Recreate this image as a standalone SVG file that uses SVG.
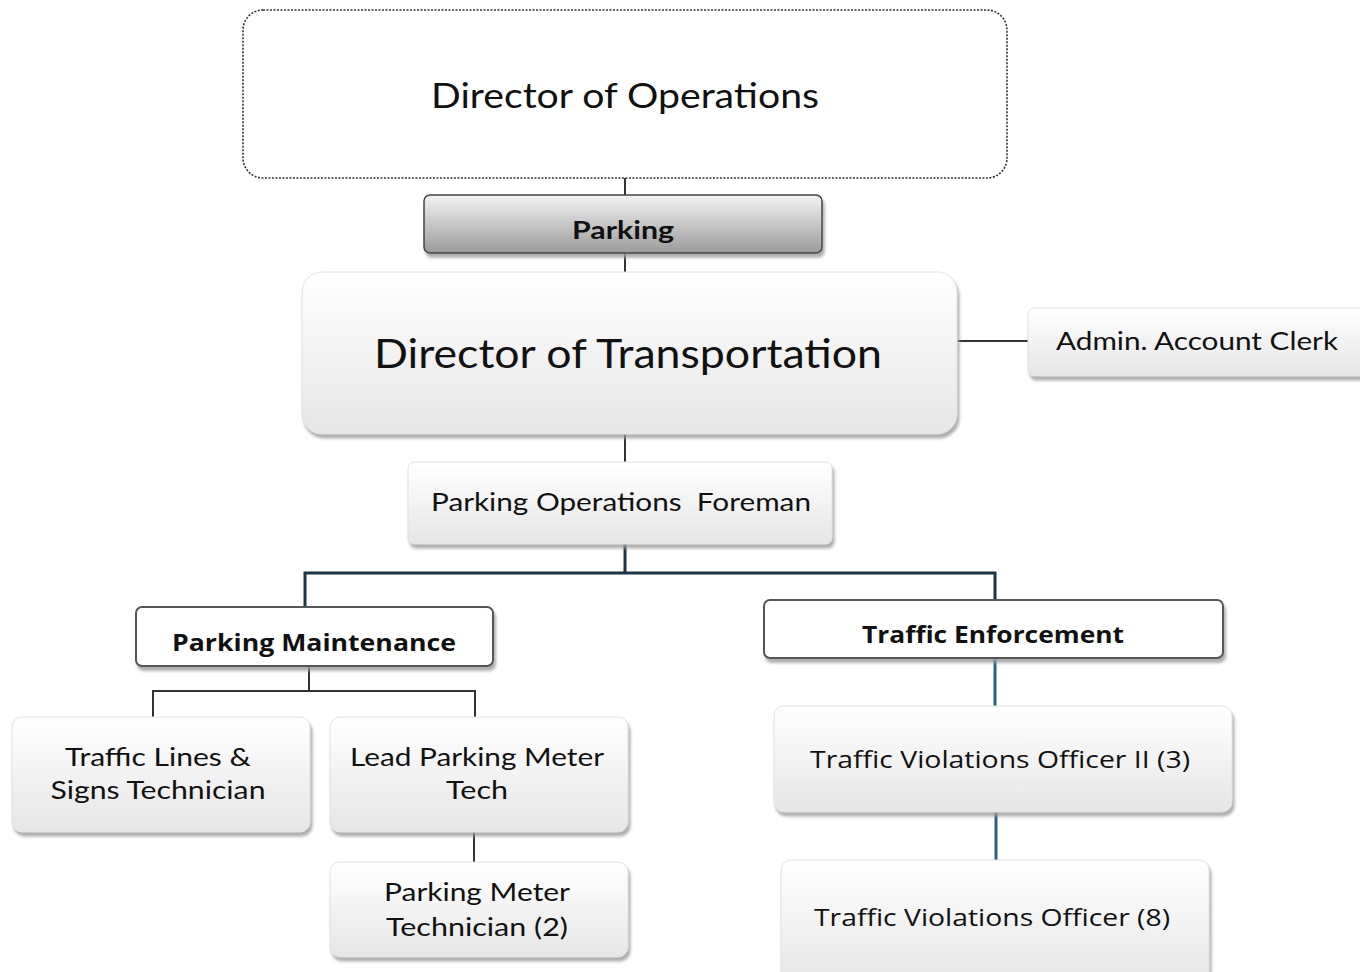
<svg xmlns="http://www.w3.org/2000/svg" width="1360" height="972" viewBox="0 0 1360 972">
<defs>
<linearGradient id="gBox" x1="0" y1="0" x2="0" y2="1">
<stop offset="0" stop-color="#ffffff"/>
<stop offset="1" stop-color="#e6e6e6"/>
</linearGradient>
<linearGradient id="gPark" x1="0" y1="0" x2="0" y2="1">
<stop offset="0" stop-color="#f4f4f4"/>
<stop offset="1" stop-color="#9a9a9a"/>
</linearGradient>
<filter id="sh" x="-10%" y="-10%" width="120%" height="130%">
<feDropShadow dx="2" dy="4" stdDeviation="1.5" flood-color="#9a9a9a" flood-opacity="0.8"/>
</filter>
</defs>
<style>
.box{fill:url(#gBox);stroke:#e2e2e2;stroke-width:1;filter:url(#sh)}
.hdr{fill:#ffffff;stroke:#555;stroke-width:2;filter:url(#sh)}
.t{font-family:"Lato","Liberation Sans",sans-serif;fill:#111;text-anchor:middle}
.s{font-family:"Open Sans","Liberation Sans",sans-serif;fill:#111;text-anchor:middle}
.ln{stroke:#333;stroke-width:2;fill:none}
.nv{stroke:#1c3444;stroke-width:3;fill:none}
.bl{stroke:#2b5f7e;stroke-width:3;fill:none}
</style>
<rect width="1360" height="972" fill="#ffffff"/>
<g id="connectors">
<path class="ln" d="M625 178V195"/>
<path class="ln" d="M625 253V272"/>
<path class="ln" d="M957 341H1028"/>
<path class="ln" d="M625 434V462"/>
<path class="nv" d="M625 544V573M305 607V573H995V600"/>
<path class="ln" d="M309 666V691M153 717V691H475V717"/>
<path class="ln" d="M474 832V862"/>
<path class="bl" d="M995 658V706"/>
<path class="bl" d="M996 812V860"/>
</g>
<g id="director-operations">
<rect x="243" y="10" width="764" height="168" rx="20" fill="#ffffff" stroke="#333" stroke-width="1.6" stroke-dasharray="2 1.5"/>
<text class="t" x="625" y="108" font-size="34" textLength="388" lengthAdjust="spacingAndGlyphs">Director of Operations</text>
</g>
<g id="parking">
<rect x="424" y="195" width="398" height="58" rx="6" fill="url(#gPark)" stroke="#444" stroke-width="1.5" filter="url(#sh)"/>
<text class="t" x="623" y="239" font-size="24" font-weight="bold" textLength="102" lengthAdjust="spacingAndGlyphs">Parking</text>
</g>
<g id="director-transportation">
<rect class="box" x="302" y="272" width="655" height="162" rx="20"/>
<text class="t" x="628" y="368" font-size="40" textLength="508" lengthAdjust="spacingAndGlyphs">Director of Transportation</text>
</g>
<g id="admin-clerk">
<rect class="box" x="1028" y="308" width="345" height="68" rx="6"/>
<text class="t" x="1197" y="350" font-size="25" textLength="282" lengthAdjust="spacingAndGlyphs">Admin. Account Clerk</text>
</g>
<g id="foreman">
<rect class="box" x="408" y="462" width="424" height="82" rx="6"/>
<text class="t" x="621" y="511" font-size="25" textLength="380" lengthAdjust="spacingAndGlyphs">Parking Operations&#160; Foreman</text>
</g>
<g id="parking-maintenance">
<rect class="hdr" x="136" y="607" width="357" height="59" rx="6"/>
<text class="s" x="314" y="651" font-size="23" font-weight="bold" textLength="284" lengthAdjust="spacingAndGlyphs">Parking Maintenance</text>
</g>
<g id="traffic-enforcement">
<rect class="hdr" x="764" y="600" width="459" height="58" rx="6"/>
<text class="s" x="993" y="643" font-size="23" font-weight="bold" textLength="262" lengthAdjust="spacingAndGlyphs">Traffic Enforcement</text>
</g>
<g id="traffic-lines">
<rect class="box" x="12" y="717" width="298" height="115" rx="10"/>
<text class="t" x="158" y="766" font-size="25" textLength="186" lengthAdjust="spacingAndGlyphs">Traffic Lines &amp;</text>
<text class="t" x="158" y="799" font-size="25" textLength="215" lengthAdjust="spacingAndGlyphs">Signs Technician</text>
</g>
<g id="lead-meter-tech">
<rect class="box" x="330" y="717" width="298" height="115" rx="10"/>
<text class="t" x="477" y="766" font-size="25" textLength="254" lengthAdjust="spacingAndGlyphs">Lead Parking Meter</text>
<text class="t" x="477" y="799" font-size="25" textLength="62" lengthAdjust="spacingAndGlyphs">Tech</text>
</g>
<g id="meter-tech">
<rect class="box" x="330" y="862" width="298" height="95" rx="10"/>
<text class="t" x="477" y="901" font-size="25" textLength="186" lengthAdjust="spacingAndGlyphs">Parking Meter</text>
<text class="t" x="477" y="936" font-size="25" textLength="182" lengthAdjust="spacingAndGlyphs">Technician (2)</text>
</g>
<g id="tvo-ii">
<rect class="box" x="774" y="706" width="458" height="106" rx="10"/>
<text class="s" x="1000" y="768" font-size="24" textLength="380" lengthAdjust="spacingAndGlyphs">Traffic Violations Officer II (3)</text>
</g>
<g id="tvo">
<rect class="box" x="781" y="860" width="428" height="125" rx="10"/>
<text class="s" x="992" y="926" font-size="24" textLength="356" lengthAdjust="spacingAndGlyphs">Traffic Violations Officer (8)</text>
</g>
</svg>
